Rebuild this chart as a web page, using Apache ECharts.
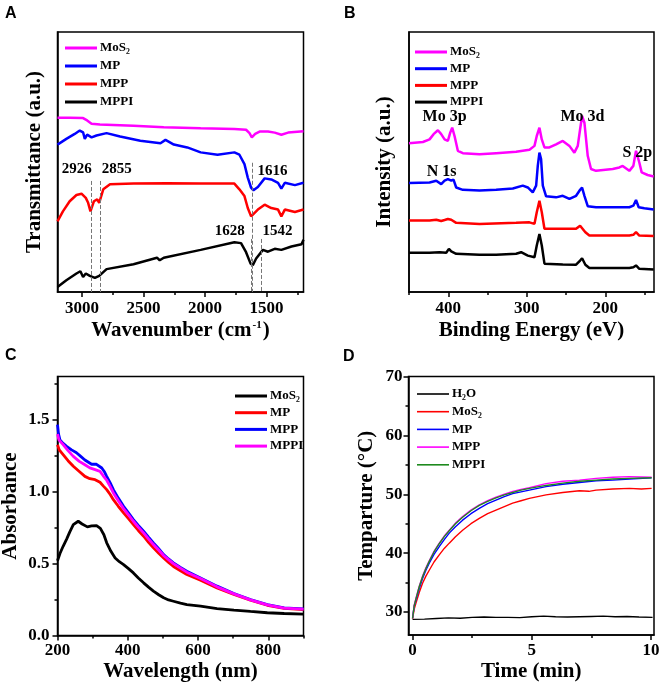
<!DOCTYPE html>
<html><head><meta charset="utf-8">
<script src="https://cdn.jsdelivr.net/npm/echarts@6/dist/echarts.min.js"></script>
<style>html,body{margin:0;padding:0;background:#fff}#c{width:661px;height:686px}</style>
</head><body><div id="c"></div>
<script>
// ---------- Panel A: FTIR (wavenumber, transmittance a.u.) ----------
const ftirMoS2 = [[3200,67.0],[3101,67.0],[2992,66.9],[2959,66.0],[2923,64.7],[2855,64.4],[2582,63.9],[2336,63.4],[2036,63.0],[1762,62.7],[1667,62.4],[1639,61.1],[1620,59.5],[1593,60.8],[1557,61.7],[1489,61.7],[1434,61.3],[1380,60.5],[1325,61.3],[1200,61.8]];
const ftirMP = [[3200,56.7],[3128,58.9],[3060,60.8],[3019,62.1],[3005,62.7],[2992,61.4],[2978,58.9],[2959,60.5],[2923,59.5],[2883,60.2],[2801,61.1],[2691,59.8],[2527,58.2],[2363,57.2],[2322,58.5],[2254,56.7],[2145,55.6],[2036,53.7],[1899,52.8],[1762,53.7],[1721,52.8],[1680,49.2],[1653,44.0],[1626,40.1],[1607,39.1],[1571,40.4],[1516,43.7],[1462,43.3],[1407,42.0],[1380,39.8],[1352,42.0],[1270,41.1],[1200,42.0]];
const ftirMPP = [[3200,27.2],[3156,31.0],[3101,34.9],[3046,37.3],[3005,37.8],[2970,36.2],[2951,34.3],[2932,31.0],[2921,31.3],[2904,34.9],[2877,35.6],[2861,34.3],[2850,34.9],[2828,39.5],[2773,41.4],[2582,41.7],[2309,41.8],[2036,41.7],[1762,41.7],[1721,39.5],[1680,36.9],[1653,32.3],[1626,29.1],[1612,28.5],[1571,31.7],[1516,33.6],[1462,32.3],[1407,31.7],[1380,29.1],[1352,31.7],[1270,30.8],[1200,31.7]];
const ftirMPPI = [[3200,1.9],[3128,4.5],[3046,7.1],[3014,8.0],[2992,5.8],[2970,7.1],[2937,6.2],[2896,5.4],[2861,6.2],[2801,8.8],[2582,10.7],[2391,13.2],[2369,12.2],[2336,13.2],[2036,16.2],[1762,19.1],[1708,18.8],[1667,15.3],[1631,11.0],[1612,10.3],[1585,12.9],[1530,16.2],[1489,15.5],[1434,16.6],[1380,16.2],[1298,17.5],[1216,18.4],[1200,20.1]];
const ftirPeakLabels = ['2926','2855','1616','1628','1542'];
const ftirPeakValues = [2926,2855,1616,1628,1542];
const ftirXTicks = [1500,2000,2500,3000];
const ftirXMinor = [1250,1750,2250,2750];

// ---------- Panel B: XPS (binding energy eV, intensity a.u.) ----------
const xpsMoS2 = [[450,57.2],[432.3,57.7],[423.8,58.7],[418.7,60.7],[413.2,62.2],[409.0,60.7],[404.7,58.7],[400.5,58.1],[397.5,61.3],[395.0,63.2],[392.0,60.0],[387.8,54.3],[381.4,53.4],[360.2,53.0],[339.0,53.4],[313.6,53.9],[296.6,54.7],[290.2,56.2],[287.3,60.0],[283.9,63.2],[280.9,58.7],[277.5,55.6],[271.2,55.6],[262.7,56.8],[254.2,58.1],[245.7,56.2],[239.4,53.6],[235.1,56.2],[232.1,62.6],[229.6,67.7],[226.6,65.1],[222.4,52.4],[218.2,47.3],[211.8,46.6],[190.6,47.3],[182.1,47.9],[177.9,48.5],[169.4,46.6],[164.3,48.5],[160.9,54.3],[156.7,49.8],[153.7,46.0],[146.1,45.0],[138.4,44.4]];
const xpsMP = [[450,41.9],[423.8,42.1],[415.3,42.8],[409.0,41.5],[404.7,42.8],[400.5,43.4],[396.2,42.8],[393.3,43.2],[389.9,40.2],[381.4,39.3],[360.2,39.0],[339.0,39.3],[317.8,39.8],[305.1,40.9],[298.7,40.2],[292.4,38.3],[288.1,40.9],[286.0,48.5],[283.9,53.6],[281.8,51.1],[279.6,40.9],[275.4,36.8],[262.7,36.4],[254.2,37.0],[245.7,35.8],[237.2,37.0],[232.1,39.3],[229.6,40.2],[226.6,37.0],[222.4,33.0],[211.8,32.6],[169.4,32.6],[164.3,33.2],[160.9,35.4],[157.5,32.6],[150.3,32.2],[148.2,32.6],[138.4,31.7]];
const xpsMPP = [[450,27.5],[423.8,27.5],[415.3,27.8],[409.0,27.3],[404.7,27.7],[400.5,28.1],[396.2,27.8],[389.9,26.6],[360.2,26.2],[313.6,26.6],[296.6,26.8],[290.2,26.2],[287.3,30.7],[283.9,35.1],[280.9,30.7],[277.5,24.3],[254.2,24.3],[237.2,24.3],[232.1,25.5],[229.6,26.1],[225.4,23.0],[220.3,21.7],[169.4,21.7],[164.3,22.0],[160.9,23.0],[156.7,21.7],[138.4,21.5]];
const xpsMPPI = [[450,15.1],[423.8,15.1],[411.1,15.3],[402.6,15.1],[399.2,16.6],[396.2,15.6],[389.9,14.7],[360.2,14.3],[339.0,14.3],[313.6,14.7],[307.2,15.3],[298.7,14.0],[290.2,13.4],[287.3,17.9],[283.9,22.3],[280.9,17.9],[277.5,10.9],[254.2,10.6],[237.2,10.5],[232.1,12.1],[229.6,13.0],[225.4,10.5],[220.3,9.2],[169.4,9.2],[164.3,9.5],[160.9,10.2],[156.7,8.9],[138.4,8.7]];
const xpsPeakLabels = ['Mo 3p','N 1s','Mo 3d','S 2p'];
const xpsXTicks = [200,300,400];
const xpsXMinor = [150,250,350,450];

// ---------- Panel C: UV-vis absorbance ----------
const uvMoS2 = [[200,0.52],[207,0.57],[216,0.62],[226,0.67],[235,0.72],[245,0.77],[259,0.794],[270,0.775],[285,0.755],[297,0.762],[311,0.764],[322,0.745],[332,0.70],[340,0.644],[352,0.585],[364,0.539],[376,0.513],[388,0.493],[402,0.465],[416,0.435],[430,0.40],[445,0.366],[459,0.336],[473,0.308],[488,0.283],[502,0.262],[516,0.247],[530,0.238],[550,0.225],[568,0.215],[607,0.204],[654,0.1875],[702,0.176],[749,0.167],[797,0.158],[845,0.153],[900,0.148]];
const uvMP = [[200,1.326],[205,1.29],[216,1.257],[230,1.215],[245,1.176],[262,1.14],[278,1.106],[292,1.09],[307,1.083],[321,1.065],[330,1.04],[340,1.014],[350,0.98],[359,0.944],[373,0.898],[388,0.852],[402,0.812],[416,0.771],[430,0.73],[445,0.69],[459,0.648],[473,0.609],[488,0.572],[502,0.539],[516,0.508],[530,0.48],[550,0.45],[568,0.424],[607,0.384],[654,0.331],[702,0.285],[749,0.245],[797,0.21],[845,0.188],[900,0.18]];
const uvMPP = [[200,1.465],[203,1.40],[207,1.36],[216,1.335],[226,1.315],[240,1.29],[254,1.27],[266,1.245],[278,1.22],[297,1.19],[311,1.19],[326,1.164],[333,1.14],[340,1.106],[350,1.06],[359,1.014],[373,0.955],[388,0.898],[402,0.852],[416,0.806],[430,0.765],[445,0.725],[459,0.684],[473,0.644],[488,0.603],[502,0.5625],[516,0.532],[530,0.505],[550,0.473],[568,0.447],[607,0.40],[654,0.343],[702,0.292],[749,0.25],[797,0.215],[845,0.192],[900,0.185]];
const uvMPPI = [[200,1.40],[204,1.36],[216,1.326],[230,1.285],[245,1.245],[262,1.21],[278,1.187],[292,1.165],[307,1.153],[321,1.141],[330,1.11],[340,1.079],[350,1.035],[359,0.991],[373,0.936],[388,0.882],[402,0.838],[416,0.794],[430,0.753],[445,0.713],[459,0.672],[473,0.632],[488,0.594],[502,0.556],[516,0.527],[530,0.5],[550,0.468],[568,0.44],[607,0.396],[654,0.338],[702,0.289],[749,0.248],[797,0.213],[845,0.19],[900,0.183]];
const uvXTicks = [200,400,600,800];
const uvXMinor = [300,500,700,900];
const uvYTicks = [0,0.5,1.0,1.5];
const uvYMinor = [0.25,0.75,1.25,1.75];

// ---------- Panel D: photothermal heating ----------
const heatH2O = [[0,28.75],[0.5,28.8],[1,28.9],[1.5,29.0],[2,28.95],[2.5,29.1],[3,29.15],[3.5,29.1],[4,29.1],[4.5,29.05],[5,29.2],[5.5,29.3],[6,29.2],[6.5,29.15],[7,29.2],[7.5,29.25],[8,29.3],[8.5,29.2],[9,29.25],[9.5,29.15],[10.07,29.1]];
const heatMoS2 = [[0,28.9],[0.07,30.5],[0.14,31.5],[0.28,33.3],[0.42,34.9],[0.56,36.1],[0.70,37.1],[0.9,38.5],[1.12,39.7],[1.33,40.8],[1.54,41.7],[1.8,42.8],[2.1,43.9],[2.45,45.0],[2.8,45.9],[3.15,46.7],[3.5,47.3],[3.85,47.9],[4.2,48.5],[4.55,48.9],[4.9,49.3],[5.25,49.6],[5.6,49.9],[6.3,50.3],[7.0,50.6],[7.4,50.5],[7.7,50.7],[8.4,50.9],[9.1,51.0],[9.6,50.9],[10.03,51.0]];
const heatMP = [[0,29.0],[0.07,31.0],[0.14,32.0],[0.28,34.0],[0.42,35.7],[0.56,37.1],[0.70,38.3],[0.9,39.8],[1.12,41.1],[1.33,42.3],[1.54,43.4],[1.8,44.5],[2.1,45.6],[2.45,46.7],[2.8,47.6],[3.15,48.4],[3.5,49.0],[3.85,49.6],[4.2,50.1],[4.55,50.4],[4.9,50.7],[5.6,51.3],[6.3,51.7],[7.0,52.0],[7.7,52.3],[8.4,52.4],[9.1,52.6],[10.03,52.8]];
const heatMPP = [[0,28.9],[0.07,31.2],[0.14,32.3],[0.28,34.4],[0.42,36.1],[0.56,37.5],[0.70,38.7],[0.9,40.3],[1.12,41.7],[1.33,42.9],[1.54,43.9],[1.8,45.1],[2.1,46.2],[2.45,47.3],[2.8,48.2],[3.15,48.9],[3.5,49.5],[3.85,50.0],[4.2,50.5],[4.55,50.8],[4.9,51.1],[5.6,51.8],[6.3,52.2],[7.0,52.4],[7.7,52.7],[8.4,52.9],[9.1,53.0],[10.03,52.9]];
const heatMPPI = [[0,28.9],[0.07,31.1],[0.14,32.2],[0.28,34.3],[0.42,36.0],[0.56,37.4],[0.70,38.6],[0.9,40.2],[1.12,41.6],[1.33,42.8],[1.54,43.8],[1.8,45.0],[2.1,46.1],[2.45,47.2],[2.8,48.1],[3.15,48.8],[3.5,49.4],[3.85,49.9],[4.2,50.3],[4.55,50.7],[4.9,51.0],[5.6,51.5],[6.3,51.9],[7.0,52.2],[7.7,52.4],[8.4,52.6],[9.1,52.7],[10.03,52.8]];
const heatXTicks = [0,5,10];
const heatXMinor = [2.5,7.5];
const heatYTicks = [30,40,50,60,70];
const heatYMinor = [35,45,55,65];

// ---------- Build chart ----------
const SERIF = '"Liberation Serif","Times New Roman",serif';
const SANS = '"Liberation Sans",Arial,sans-serif';
const BLACK = '#000000', RED = '#ff0000', BLUE = '#0000ff', MAG = '#ff00ff', GREEN = '#1e8a1e';
const nameStyle = {fontFamily: SERIF, fontWeight: 'bold', fontSize: 21, color: '#000'};
const labelStyle = {color: '#000', fontFamily: SERIF, fontWeight: 'bold', fontSize: 17};
const plain = function (v) { return String(v); };

function axisPair(kind, g, min, max, inverse, majors, minors, name, gap, fmt, margin) {
  const main = {
    type: 'value', gridIndex: g, min: min, max: max, inverse: inverse,
    position: kind === 'x' ? 'bottom' : 'left',
    axisLine: {show: true, onZero: false, lineStyle: {color: '#000', width: 1.5}},
    axisTick: {show: true, inside: false, length: 5, customValues: majors, lineStyle: {color: '#000', width: 1.5}},
    axisLabel: Object.assign({show: true, customValues: majors, margin: margin, formatter: fmt || plain}, labelStyle),
    splitLine: {show: false},
    name: name, nameLocation: 'middle', nameGap: gap, nameTextStyle: nameStyle
  };
  const minor = {
    type: 'value', gridIndex: g, min: min, max: max, inverse: inverse,
    position: kind === 'x' ? 'bottom' : 'left',
    axisLine: {show: false, onZero: false},
    axisTick: {show: true, inside: false, length: 3, customValues: minors, lineStyle: {color: '#000', width: 1.5}},
    axisLabel: {show: false},
    splitLine: {show: false}
  };
  return [main, minor];
}
function plainY(g, name, gap) {
  return {
    type: 'value', gridIndex: g, min: 0, max: 100, position: 'left',
    axisLine: {show: true, onZero: false, lineStyle: {color: '#000', width: 1.5}},
    axisTick: {show: false}, axisLabel: {show: false}, splitLine: {show: false},
    name: name, nameLocation: 'middle', nameGap: gap, nameTextStyle: nameStyle
  };
}
function line(name, data, color, xi, yi, width, extra) {
  return Object.assign({
    type: 'line', name: name, data: data, xAxisIndex: xi, yAxisIndex: yi,
    symbol: 'none', showSymbol: false, animation: false,
    lineStyle: {color: color, width: width}, itemStyle: {color: color}
  }, extra || {});
}
function legend(names, left, top, gap, thick) {
  return {
    data: names, orient: 'vertical', left: left, top: top,
    icon: 'rect', itemWidth: 32, itemHeight: thick, itemGap: gap, selectedMode: false,
    formatter: function (n) { return n.split('|')[1]; },
    textStyle: {fontFamily: SERIF, fontWeight: 'bold', fontSize: 13, color: '#000', lineHeight: 14, padding: [0, 0, 0, -2]}
  };
}
const annLabel = {show: true, position: 'inside', formatter: '{b}', color: '#000', fontFamily: SERIF, fontWeight: 'bold', fontSize: 15};

const xA = axisPair('x', 0, 1200, 3200, true, ftirXTicks, ftirXMinor,
  '{t|Wavenumber (cm}{s|-1}{t|)}', 28, null, 8);
xA[0].nameTextStyle = Object.assign({}, nameStyle, {rich: {
  t: {fontFamily: SERIF, fontWeight: 'bold', fontSize: 21, color: '#000'},
  s: {fontFamily: SERIF, fontWeight: 'bold', fontSize: 11, color: '#000', verticalAlign: 'top', padding: [0, 1, 8, 1]}
}});
const xB = axisPair('x', 1, 138, 450, true, xpsXTicks, xpsXMinor, 'Binding Energy (eV)', 28, null, 8);
const xC = axisPair('x', 2, 200, 900, false, uvXTicks, uvXMinor, 'Wavelength (nm)', 26, null, 7);
const xD = axisPair('x', 3, -0.17, 10.13, false, heatXTicks, heatXMinor, 'Time (min)', 26, null, 7);
const yC = axisPair('y', 2, 0, 1.8, false, uvYTicks, uvYMinor, 'Absorbance', 36, function (v) { return v.toFixed(1); }, 8);
const yD = axisPair('y', 3, 26.1, 70, false, heatYTicks, heatYMinor, 'Temparture (\u00B0C)', 31, null, 6);

const gridBase = {show: true, borderColor: '#000', borderWidth: 1.5, backgroundColor: 'transparent', containLabel: false, outerBoundsMode: 'none'};

const option = {
  backgroundColor: '#fff',
  animation: false,
  grid: [
    Object.assign({left: 57.5, top: 32, width: 246, height: 260}, gridBase),
    Object.assign({left: 409, top: 32, width: 245, height: 260}, gridBase),
    Object.assign({left: 57.5, top: 376.5, width: 246, height: 259}, gridBase),
    Object.assign({left: 408.5, top: 376.5, width: 245.5, height: 258.5}, gridBase)
  ],
  xAxis: [].concat(xA, xB, xC, xD),
  yAxis: [plainY(0, 'Transmittance (a.u.)', 12), plainY(1, 'Intensity (a.u.)', 14)].concat(yC, yD),
  legend: [
    legend(['A|MoS\u2082', 'A|MP', 'A|MPP', 'A|MPPI'], 60, 36, 4, 3),
    legend(['B|MoS\u2082', 'B|MP', 'B|MPP', 'B|MPPI'], 410, 40, 2.7, 3),
    legend(['C|MoS\u2082', 'C|MP', 'C|MPP', 'C|MPPI'], 230, 384, 2.7, 3),
    legend(['D|H\u2082O', 'D|MoS\u2082', 'D|MP', 'D|MPP', 'D|MPPI'], 412, 382, 3.7, 1.6)
  ],
  graphic: [
    {type: 'text', left: 5, top: 6, style: {text: 'A', font: 'bold 16px ' + SANS, fill: '#000'}},
    {type: 'text', left: 344, top: 6, style: {text: 'B', font: 'bold 16px ' + SANS, fill: '#000'}},
    {type: 'text', left: 5, top: 348, style: {text: 'C', font: 'bold 16px ' + SANS, fill: '#000'}},
    {type: 'text', left: 343, top: 349, style: {text: 'D', font: 'bold 16px ' + SANS, fill: '#000'}}
  ],
  series: [
    // Panel A
    line('A|MoS\u2082', ftirMoS2, MAG, 0, 0, 2.5),
    line('A|MP', ftirMP, BLUE, 0, 0, 2.5),
    line('A|MPP', ftirMPP, RED, 0, 0, 2.5),
    line('A|MPPI', ftirMPPI, BLACK, 0, 0, 2.5, {
      markLine: {
        silent: true, symbol: ['none', 'none'], animation: false,
        label: {show: false},
        lineStyle: {type: 'dashed', color: '#777', width: 1},
        data: [
          [{coord: [ftirPeakValues[0], 42.7]}, {coord: [ftirPeakValues[0], 0]}],
          [{coord: [ftirPeakValues[1], 42.7]}, {coord: [ftirPeakValues[1], 0]}],
          [{coord: [ftirPeakValues[2], 49.7]}, {coord: [ftirPeakValues[2], 0]}],
          [{coord: [ftirPeakValues[3], 20.4]}, {coord: [ftirPeakValues[3], 0]}],
          [{coord: [ftirPeakValues[4], 20.4]}, {coord: [ftirPeakValues[4], 0]}]
        ]
      },
      markPoint: {
        symbol: 'rect', symbolSize: 1, itemStyle: {color: 'rgba(0,0,0,0)'}, label: annLabel, animation: false,
        data: [
          {name: ftirPeakLabels[0], coord: [3043, 47.3]},
          {name: ftirPeakLabels[1], coord: [2718, 47.3]},
          {name: ftirPeakLabels[2], coord: [1452, 46.6]},
          {name: ftirPeakLabels[3], coord: [1800, 23.3]},
          {name: ftirPeakLabels[4], coord: [1411, 23.3]}
        ]
      }
    }),
    // Panel B
    line('B|MoS\u2082', xpsMoS2, MAG, 2, 1, 2.5, {
      markPoint: {
        symbol: 'rect', symbolSize: 1, itemStyle: {color: 'rgba(0,0,0,0)'}, label: Object.assign({}, annLabel, {fontSize: 16}), animation: false,
        data: [
          {name: xpsPeakLabels[0], coord: [404.7, 67.2]},
          {name: xpsPeakLabels[1], coord: [408.5, 46.1]},
          {name: xpsPeakLabels[2], coord: [229.2, 67.2]},
          {name: xpsPeakLabels[3], coord: [159.2, 53.4]}
        ]
      }
    }),
    line('B|MP', xpsMP, BLUE, 2, 1, 2.5),
    line('B|MPP', xpsMPP, RED, 2, 1, 2.5),
    line('B|MPPI', xpsMPPI, BLACK, 2, 1, 2.5),
    // Panel C
    line('C|MoS\u2082', uvMoS2, BLACK, 4, 2, 2.8),
    line('C|MP', uvMP, RED, 4, 2, 2.8),
    line('C|MPP', uvMPP, BLUE, 4, 2, 2.8),
    line('C|MPPI', uvMPPI, MAG, 4, 2, 2.8),
    // Panel D
    line('D|H\u2082O', heatH2O, BLACK, 6, 4, 1.4),
    line('D|MoS\u2082', heatMoS2, RED, 6, 4, 1.4),
    line('D|MP', heatMP, BLUE, 6, 4, 1.4),
    line('D|MPP', heatMPP, MAG, 6, 4, 1.4),
    line('D|MPPI', heatMPPI, GREEN, 6, 4, 1.4)
  ]
};
const chart = echarts.init(document.getElementById('c'), null, {renderer: 'canvas'});
chart.setOption(option);
</script>
</body></html>
